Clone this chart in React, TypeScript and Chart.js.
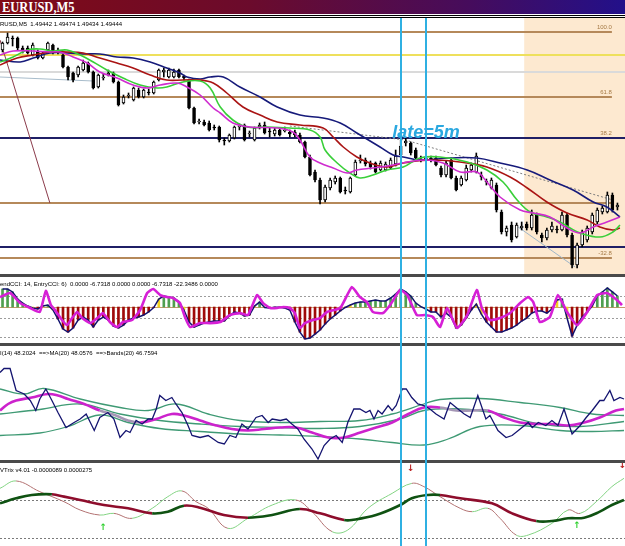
import React, { useEffect, useRef } from 'react';
import { Chart, registerables } from 'chart.js';

Chart.register(...registerables);

// ======================= DATA =======================
const symbolTitle = 'EURUSD,M5';
const headerSymbol = 'RUSD,M5';
const headerOHLC = ['1.49442', '1.49474', '1.49434', '1.49444'];
const cciLabel = 'endCCI: 14, EntryCCI: 6)  0.0000 -6.7318 0.0000 0.0000 -6.7318 -22.3486 0.0000';
const rsiLabel = 'I(14) 48.2024  ==>MA(20) 48.0576  ==>Bands(20) 46.7594';
const trixLabel = 'VTrix v4.01 -0.0000089 0.0000275';
const updateText = 'late=5m';

// candle slots (x index range)
const X_MIN = -0.5;
const X_MAX = 123.5;

const opens = [
  1.49599, 1.49606, 1.49611, 1.49611, 1.49601, 1.49601, 1.49594, 1.49597, 1.49591, 1.49599,
  1.49604, 1.49599, 1.49594, 1.49582, 1.49576, 1.49574, 1.49579, 1.49586, 1.49577, 1.49562,
  1.49571, 1.49574, 1.49576, 1.49567, 1.49546, 1.49553, 1.49549, 1.49559, 1.49552, 1.49557,
  1.49556, 1.49569, 1.49577, 1.49572, 1.49572, 1.49579, 1.49573, 1.49569, 1.49541, 1.49527,
  1.49527, 1.49526, 1.49522, 1.49522, 1.49509, 1.49508, 1.49511, 1.49522, 1.49524, 1.49515,
  1.49509, 1.49522, 1.49524, 1.49518, 1.49515, 1.49519, 1.49518, 1.49517, 1.49517, 1.49514,
  1.49507, 1.49492, 1.49477, 1.49469, 1.49449, 1.49461, 1.49467, 1.49471, 1.49459, 1.49457,
  1.49474, 1.49488, 1.49489, 1.49486, 1.49486, 1.49479, 1.49479, 1.49481, 1.49485, 1.49494,
  1.49506, 1.49506, 1.49499, 1.4949, 1.49489, 1.49491, 1.49491, 1.49481, 1.49474, 1.49489,
  1.49471, 1.49464, 1.49469, 1.49479, 1.49477, 1.49474, 1.49468, 1.49461, 1.49464, 1.49437,
  1.49417, 1.49424, 1.49412, 1.49421, 1.49425, 1.49421, 1.49434, 1.49414, 1.49411, 1.49419,
  1.4942, 1.49419, 1.49434, 1.49414, 1.49384, 1.49404, 1.49409, 1.49417, 1.49427, 1.49437,
  1.49437, 1.49454, 1.49442,
];
const closes = [
  1.49606, 1.49612, 1.4961, 1.49601, 1.49599, 1.49596, 1.49604, 1.49591, 1.49596, 1.49606,
  1.49596, 1.49597, 1.49582, 1.49572, 1.49569, 1.49582, 1.49586, 1.49577, 1.49561, 1.49574,
  1.49572, 1.49576, 1.49567, 1.49544, 1.49552, 1.49554, 1.49561, 1.49552, 1.49559, 1.49556,
  1.49567, 1.49579, 1.49579, 1.49579, 1.49577, 1.49572, 1.49571, 1.49541, 1.49526, 1.49528,
  1.49524, 1.49519, 1.49521, 1.49509, 1.49508, 1.49514, 1.49522, 1.49523, 1.49509, 1.49516,
  1.49521, 1.49524, 1.49516, 1.49517, 1.49519, 1.49514, 1.49519, 1.49515, 1.49514, 1.49507,
  1.49492, 1.49474, 1.49469, 1.49449, 1.49462, 1.49469, 1.49471, 1.49457, 1.49458, 1.49471,
  1.49487, 1.49489, 1.49485, 1.49482, 1.49477, 1.49486, 1.49485, 1.49489, 1.49493, 1.49503,
  1.49508, 1.49496, 1.49491, 1.49489, 1.49491, 1.49489, 1.49484, 1.49474, 1.49486, 1.49471,
  1.49459, 1.49471, 1.49481, 1.49484, 1.49493, 1.49472, 1.49467, 1.49469, 1.49439, 1.49417,
  1.49421, 1.49409, 1.49424, 1.49423, 1.49421, 1.49434, 1.49417, 1.49411, 1.49419, 1.49423,
  1.49419, 1.49434, 1.49414, 1.49384, 1.49404, 1.49417, 1.49421, 1.49434, 1.49439, 1.49441,
  1.49454, 1.49439, 1.49444,
];
const highs = [
  1.49607, 1.49616, 1.49613, 1.49612, 1.49603, 1.49603, 1.49606, 1.49599, 1.49597, 1.49607,
  1.49605, 1.49601, 1.49595, 1.49583, 1.49577, 1.49583, 1.49589, 1.49587, 1.49578, 1.49575,
  1.49575, 1.49579, 1.49577, 1.49568, 1.49554, 1.49556, 1.49562, 1.49561, 1.4956, 1.4956,
  1.49568, 1.4958, 1.49581, 1.49581, 1.4958, 1.4958, 1.49574, 1.4957, 1.49542, 1.4953,
  1.49529, 1.49528, 1.49524, 1.49523, 1.49511, 1.49515, 1.49523, 1.49525, 1.49525, 1.49518,
  1.49522, 1.49526, 1.49527, 1.49521, 1.49521, 1.4952, 1.49522, 1.49519, 1.49519, 1.49516,
  1.49508, 1.49494, 1.49479, 1.49471, 1.49464, 1.49471, 1.49473, 1.49472, 1.49462, 1.49472,
  1.49489, 1.49494, 1.49491, 1.49488, 1.49487, 1.49488, 1.49487, 1.49491, 1.49499, 1.49509,
  1.49511, 1.49507, 1.49501, 1.49493, 1.49494, 1.49493, 1.49493, 1.49483, 1.49488, 1.49491,
  1.49473, 1.49473, 1.49484, 1.49486, 1.49496, 1.49477, 1.4947, 1.49471, 1.49466, 1.49439,
  1.49423, 1.49427, 1.49426, 1.49427, 1.49427, 1.49439, 1.49436, 1.49416, 1.49421, 1.49427,
  1.49423, 1.49437, 1.49436, 1.49416, 1.49406, 1.49419, 1.49423, 1.49436, 1.49441, 1.49443,
  1.49457, 1.49456, 1.49446,
];
const lows = [
  1.49597, 1.49605, 1.49603, 1.49599, 1.49596, 1.49595, 1.49593, 1.4959, 1.4959, 1.49598,
  1.49595, 1.49595, 1.49581, 1.49569, 1.49567, 1.49572, 1.49578, 1.49576, 1.4956, 1.49561,
  1.49569, 1.49573, 1.49566, 1.49543, 1.49545, 1.49551, 1.49548, 1.49551, 1.49551, 1.49554,
  1.49555, 1.49568, 1.49572, 1.49571, 1.49571, 1.49571, 1.49569, 1.4954, 1.49525, 1.49525,
  1.49523, 1.49518, 1.49519, 1.49507, 1.49504, 1.49507, 1.4951, 1.49519, 1.49508, 1.49512,
  1.49508, 1.4952, 1.49515, 1.49512, 1.49513, 1.49513, 1.49517, 1.49512, 1.49512, 1.49506,
  1.49491, 1.49473, 1.49467, 1.49445, 1.49447, 1.49459, 1.49465, 1.49456, 1.49455, 1.49456,
  1.49473, 1.49486, 1.49483, 1.4948, 1.49476, 1.49478, 1.49478, 1.4948, 1.49483, 1.49493,
  1.49503, 1.49494, 1.4949, 1.49487, 1.49486, 1.49487, 1.49483, 1.49472, 1.49472, 1.4947,
  1.49458, 1.49463, 1.49468, 1.49477, 1.49476, 1.49469, 1.49464, 1.4946, 1.49437, 1.49415,
  1.49413, 1.49407, 1.49411, 1.49419, 1.49419, 1.49419, 1.49415, 1.49407, 1.49409, 1.49417,
  1.49416, 1.49418, 1.49412, 1.49381, 1.49381, 1.49402, 1.49407, 1.49415, 1.49425, 1.49435,
  1.49436, 1.49437, 1.49439,
];

// moving averages on price: [candle index, price]
const maNavy = [
  [-0.5, 1.49589], [3.5, 1.49587], [6.1, 1.49591], [9.4, 1.49596], [12.8, 1.49596], [16.0, 1.49595],
  [19.3, 1.49595], [22.7, 1.49592], [25.9, 1.49591], [29.3, 1.49587], [32.6, 1.49581], [35.2, 1.49576],
  [36.6, 1.49572], [39.2, 1.4957], [41.2, 1.49572], [43.8, 1.49572], [47.1, 1.49562], [51.1, 1.49552],
  [54.5, 1.49542], [59.0, 1.49534], [63.6, 1.49531], [67.0, 1.49526], [70.3, 1.49516], [74.9, 1.49502],
  [77.5, 1.49494], [79.5, 1.49492], [82.8, 1.49489], [88.8, 1.49491], [94.1, 1.49491], [98.7, 1.49486],
  [104.1, 1.49479], [108.6, 1.49469], [113.2, 1.49459], [117.2, 1.49447], [119.9, 1.49442], [122.5, 1.49432],
];
const maRed = [
  [-0.5, 1.49584], [2.9, 1.49591], [6.1, 1.49594], [9.4, 1.49597], [12.8, 1.49597], [16.0, 1.49596],
  [19.3, 1.49591], [22.7, 1.49586], [25.9, 1.49581], [29.3, 1.49574], [32.6, 1.49569], [35.8, 1.49569],
  [39.2, 1.49569], [41.8, 1.49566], [44.5, 1.49556], [47.7, 1.49542], [51.1, 1.49534], [54.5, 1.49527],
  [59.0, 1.49524], [63.6, 1.49521], [65.6, 1.49512], [67.6, 1.49502], [70.3, 1.49492], [72.9, 1.49486],
  [76.3, 1.49482], [79.5, 1.49486], [85.4, 1.49489], [92.2, 1.49486], [96.1, 1.49482], [100.7, 1.49472],
  [104.1, 1.49461], [108.0, 1.49447], [112.0, 1.49436], [116.0, 1.49429], [118.5, 1.49422], [121.1, 1.49419],
  [122.5, 1.49421],
];
const maGreen = [
  [-0.5, 1.49587], [2.1, 1.49592], [4.9, 1.49599], [7.4, 1.496], [10.0, 1.49598], [12.8, 1.49599],
  [15.4, 1.49594], [18.0, 1.49587], [20.7, 1.49579], [23.9, 1.49571], [27.3, 1.49564], [30.7, 1.49561],
  [32.6, 1.49562], [35.8, 1.49567], [39.2, 1.49568], [41.2, 1.49561], [43.2, 1.49542], [45.7, 1.49529],
  [48.5, 1.49522], [52.5, 1.49522], [57.0, 1.49521], [61.0, 1.49519], [63.0, 1.49512], [64.0, 1.49499],
  [66.4, 1.49486], [68.9, 1.49476], [70.9, 1.49471], [73.5, 1.49474], [76.3, 1.49479], [79.5, 1.49482],
  [82.8, 1.49491], [86.8, 1.49492], [92.2, 1.49487], [96.1, 1.49479], [99.3, 1.49467], [102.1, 1.49449],
  [104.7, 1.49437], [108.0, 1.49432], [110.6, 1.49427], [112.6, 1.49421], [114.6, 1.49416], [118.5, 1.49412],
  [121.1, 1.49417], [122.5, 1.49424],
];
const maMagenta = [
  [-0.5, 1.49594], [2.1, 1.49598], [6.1, 1.49598], [9.4, 1.49597], [11.4, 1.49597], [14.0, 1.49592],
  [16.8, 1.49586], [19.3, 1.49577], [22.7, 1.49571], [25.9, 1.49564], [28.7, 1.49561], [31.3, 1.49564],
  [34.6, 1.49566], [36.6, 1.49562], [39.2, 1.49554], [41.8, 1.49541], [43.2, 1.49536], [45.7, 1.49526],
  [49.1, 1.49522], [54.5, 1.49521], [57.6, 1.49517], [59.0, 1.49509], [61.0, 1.49492], [63.0, 1.49486],
  [65.6, 1.49481], [68.4, 1.49476], [70.3, 1.49479], [73.5, 1.49481], [77.5, 1.49484], [80.3, 1.49487],
  [84.2, 1.49489], [87.4, 1.49486], [90.8, 1.49477], [94.1, 1.49477], [96.1, 1.49467], [98.7, 1.49452],
  [102.7, 1.49439], [105.3, 1.49436], [108.6, 1.49432], [112.0, 1.49421], [114.6, 1.49416], [117.2, 1.49422],
  [119.9, 1.49427], [122.5, 1.49432],
];

// drawing objects on the price chart
const fiboLevels = [100.0, 61.8, 38.2, 0.0, -32.8];
const fiboPrices = [1.49617, 1.49552, 1.49511, 1.49446, 1.49391];
const fiboEndIndex = 120.9;
const plainLevelPrices = [1.49594, 1.49577, 1.49511, 1.49402];
const shadeFromIndex = 103.5;
const trendMaroon = [[-0.5, 1.49609], [9.4, 1.49446]];
const trendSteelLeft = [[-0.5, 1.49572], [18.0, 1.49568]];
const trendSteelRight = [[102.3, 1.49422], [113.6, 1.49382]];
const trendDashed = [[57.0, 1.49523], [79.9, 1.49509], [121.1, 1.49449]];
const updateTextAnchor = [77.3, 1.49511];
const verticalLineIndex = [79, 84];

// CCI panel
const trendCci = [
  164, 164, 137, 73, 36, 9, -9, -18, 9, 18,
  -27, -109, -200, -228, -191, -118, -91, -118, -182, -118,
  -91, -118, -173, -191, -164, -118, -100, -91, -73, -45,
  -5, 73, 100, 91, 82, 45, -27, -136, -182, -164,
  -146, -136, -127, -127, -127, -82, -45, -55, -82, -73,
  9, 45, -5, -9, -3, -2, -9, -27, -136, -228,
  -291, -282, -246, -209, -155, -109, -73, -36, -4, 18,
  36, 45, 45, 55, 64, 55, 55, 82, 118, 164,
  137, 100, 36, 4, -18, -45, -45, -91, -55, -91,
  -191, -164, -100, -27, 27, -64, -136, -182, -228, -228,
  -209, -191, -164, -127, -100, -55, -36, -36, -55, -18,
  64, 73, -100, -264, -164, -91, -45, 9, 100, 137,
  173, 137, 100,
];
const entryCci = [
  [-0.5, 91], [1.5, 127], [3.5, 36], [5.5, -9], [7.4, -45], [8.6, 146], [9.6, 18], [10.4, -27],
  [11.8, -118], [12.8, -164], [13.8, -100], [14.8, -45], [15.8, -100], [17.4, -146], [18.8, -100],
  [19.9, -55], [21.3, -136], [22.7, -182], [23.9, -136], [25.7, -118], [27.3, -27], [28.7, 127],
  [29.9, 164], [31.3, 109], [32.6, 91], [33.8, 82], [35.2, 36], [36.2, -91], [37.2, -182],
  [39.2, -146], [41.2, -146], [43.2, -136], [45.1, -73], [47.1, -55], [48.7, -73], [50.5, 109],
  [51.7, 36], [53.1, -9], [54.5, -9], [55.7, 0], [57.0, -9], [58.0, -55], [59.0, -191], [60.0, -146],
  [61.6, -118], [63.0, -100], [64.4, -45], [67.0, -9], [69.3, 182], [70.9, 91], [72.3, 45],
  [73.5, -45], [75.5, -55], [76.9, 18], [78.9, 155], [80.3, 109], [82.2, -73], [83.8, -73],
  [85.4, -91], [86.8, -182], [88.2, -9], [90.2, -191], [92.2, -73], [94.1, 155], [95.1, -9],
  [96.7, -118], [98.7, -100], [100.7, -55], [102.7, 36], [104.3, 91], [105.3, 45], [106.6, -136],
  [108.6, -91], [110.2, 109], [112.0, -45], [114.0, -164], [116.0, -45], [118.0, 109], [119.9, 127],
  [121.9, 64], [122.9, 18],
];
const cciDottedLevels = [100, -100, -270];

// RSI panel
const rsiLine = [
  [-0.5, 53.5], [0.3, 54.3], [1.5, 54.3], [2.7, 49.9], [4.3, 49.2], [5.5, 47.9], [6.6, 45.9], [7.4, 48.2],
  [8.6, 50.2], [9.8, 47.9], [11.0, 45.5], [12.6, 42.5], [14.2, 43.5], [15.4, 44.2], [16.6, 45.2], [18.2, 41.9],
  [19.3, 44.5], [20.9, 45.5], [22.1, 44.2], [23.3, 40.5], [24.5, 41.9], [25.3, 41.5], [26.5, 43.9], [27.7, 43.2],
  [28.9, 44.2], [29.7, 44.2], [30.5, 46.2], [31.2, 48.9], [32.4, 47.9], [33.6, 48.5], [34.4, 47.2], [35.6, 45.5],
  [36.8, 42.9], [37.6, 40.9], [39.2, 40.5], [40.8, 40.9], [42.8, 39.5], [44.0, 39.2], [45.1, 40.9], [46.3, 40.5],
  [47.5, 43.2], [48.7, 42.2], [50.3, 44.5], [51.5, 44.9], [52.7, 43.5], [53.5, 44.2], [55.1, 43.9], [56.3, 44.2],
  [57.4, 43.2], [58.6, 42.2], [59.8, 40.2], [61.4, 38.2], [62.6, 36.2], [63.8, 38.9], [65.0, 40.2], [66.2, 40.9],
  [67.4, 39.5], [68.5, 43.5], [69.7, 46.2], [70.9, 46.2], [72.1, 45.5], [72.9, 45.9], [73.7, 44.2], [74.5, 45.9],
  [75.3, 45.2], [76.5, 46.9], [77.3, 45.9], [78.1, 46.9], [79.3, 50.2], [80.1, 50.2], [81.2, 48.5], [82.4, 47.2],
  [83.6, 46.9], [84.8, 46.2], [86.0, 45.2], [87.6, 44.2], [88.8, 47.5], [90.0, 46.5], [91.6, 45.2], [92.8, 44.5],
  [94.3, 48.9], [95.9, 44.2], [96.7, 44.9], [98.3, 41.9], [99.9, 40.5], [101.1, 40.9], [102.7, 42.2], [104.3, 43.5],
  [105.1, 42.5], [106.3, 43.5], [107.8, 42.9], [109.0, 43.9], [110.2, 42.9], [111.4, 46.2], [113.0, 41.2], [114.6, 42.9],
  [115.8, 44.5], [117.0, 45.9], [118.5, 47.9], [119.3, 47.9], [120.5, 49.9], [121.3, 47.9], [122.5, 48.5], [123.3, 48.2],
];
const rsiMa = [
  [-0.5, 45.9], [1.1, 47.2], [2.7, 47.9], [5.8, 48.5], [9.0, 49.2], [11.0, 48.9], [13.0, 48.2], [16.2, 47.2],
  [19.3, 45.9], [22.5, 44.9], [24.9, 43.9], [27.3, 43.5], [30.5, 44.2], [33.6, 45.2], [36.0, 44.9], [39.2, 43.9],
  [42.4, 42.9], [45.5, 42.2], [48.7, 41.9], [51.9, 42.2], [55.1, 42.5], [58.2, 42.5], [61.4, 41.5], [64.6, 40.5],
  [67.8, 40.5], [71.0, 41.5], [74.1, 42.5], [77.3, 43.5], [80.5, 45.2], [83.6, 46.5], [86.8, 46.5], [90.0, 45.9],
  [93.2, 45.9], [96.3, 45.9], [99.5, 44.5], [102.7, 43.5], [105.9, 43.2], [109.0, 43.2], [112.2, 42.9], [115.4, 43.5],
  [118.5, 44.5], [121.7, 45.9], [123.3, 46.2],
];
const rsiMaGraySpans = [[19.3, 27.3], [86.8, 96.3]];
const bandUpper = [
  [-0.5, 50.2], [4.3, 49.2], [8.2, 50.3], [15.4, 48.2], [23.3, 46.5], [28.9, 45.9], [34.4, 47.2], [40.8, 45.2],
  [47.1, 43.9], [55.1, 43.5], [63.0, 43.7], [70.9, 43.9], [77.3, 45.2], [83.6, 47.2], [86.8, 48.1], [94.7, 48.3],
  [102.7, 47.5], [110.6, 46.5], [117.0, 45.2], [123.3, 44.9],
];
const bandMiddle = [
  [-0.5, 45.2], [7.4, 46.1], [15.4, 47.2], [23.3, 45.2], [31.2, 43.9], [39.2, 43.2], [47.1, 42.7], [55.1, 42.5],
  [63.0, 42.3], [70.9, 42.7], [78.9, 44.2], [83.6, 45.9], [90.8, 46.2], [98.7, 45.2], [106.6, 43.2], [114.6, 42.7],
  [123.3, 43.7],
];
const bandLower = [
  [-0.5, 40.9], [7.4, 41.4], [13.0, 42.7], [19.3, 45.0], [24.9, 43.5], [31.2, 42.3], [39.2, 41.7], [47.1, 41.2],
  [55.1, 41.0], [63.0, 40.7], [70.9, 40.2], [77.3, 39.5], [83.6, 39.0], [88.4, 40.2], [94.7, 42.7], [102.7, 42.9],
  [110.6, 41.9], [117.0, 41.7], [123.3, 41.9],
];

// VTrix panel (values in 1e-6)
const trixMain = [
  [-0.5, -4.2], [2.7, 2.1], [5.8, 6.3], [9.8, 7.1], [12.2, 4.2], [15.4, 0.0], [20.1, -6.3], [24.9, -10.4],
  [29.7, -16.7], [32.8, -14.6], [36.0, -7.1], [39.2, -9.6], [43.9, -18.8], [48.7, -22.1], [53.5, -18.8],
  [59.0, -11.3], [63.0, -16.7], [67.8, -25.0], [69.3, -25.0], [74.1, -18.8], [78.9, -6.3], [81.2, 2.1],
  [84.4, 6.3], [86.8, 6.3], [90.8, 2.1], [97.1, -4.2], [101.1, -16.7], [105.9, -26.3], [109.0, -26.3],
  [112.2, -22.9], [115.4, -22.1], [118.5, -14.6], [120.9, -6.3], [123.3, 0.0],
];
const trixSignal = [
  [-0.5, 14.6], [2.7, 23.8], [7.4, 10.4], [12.2, -2.1], [15.4, -12.5], [19.3, -18.8], [22.1, -16.7],
  [25.7, -22.9], [29.7, -10.4], [32.8, 4.2], [35.6, 11.3], [38.4, -2.1], [40.8, -10.4], [44.7, -35.4],
  [48.7, -22.9], [53.5, -6.3], [58.2, 0.0], [61.4, -14.6], [65.4, -39.6], [68.5, -37.5], [72.5, -10.4],
  [77.3, 8.3], [81.2, 20.8], [83.6, 16.7], [86.8, 4.2], [90.8, -10.4], [93.2, -14.6], [96.3, -10.4],
  [98.7, -22.9], [101.9, -43.8], [104.3, -43.8], [109.0, -29.2], [112.2, -12.5], [114.6, -16.7],
  [117.8, -2.1], [120.9, 16.7], [123.3, 27.1],
];
const trixDottedLevels = [0, -47.5];
const trixUpArrows = [[20, -35], [114, -32.5]];
const trixDownArrows = [[81, 38.8], [123, 42.5]];

// ======================= STYLE =======================
const SMALL_FONT = '6px "Liberation Sans", Arial, sans-serif';
const SEP_COLOR = '#4a4a4a';
const VLINE_COLOR = '#2fb0e2';
const FIBO_COLOR = '#b5895a';
const PLAIN_LEVEL_COLORS = ['#eee05c', '#dadada', '#1f1f66', '#1f1f66'];

const pts = (arr: number[][]) => arr.map(([x, y]) => ({ x, y }));

function baseOptions(yMin: number, yMax: number, padBottom: number): any {
  return {
    animation: false,
    responsive: false,
    events: [],
    layout: { padding: { left: 0, right: 0, top: 0, bottom: padBottom } },
    plugins: { legend: { display: false }, tooltip: { enabled: false } },
    scales: {
      x: { type: 'linear', min: X_MIN, max: X_MAX, display: false, offset: false, grid: { offset: false } },
      y: { type: 'linear', min: yMin, max: yMax, display: false },
    },
  };
}

function strokeH(ctx: any, x0: number, x1: number, py: number, w: number, color: string, dash?: number[]) {
  ctx.save();
  ctx.strokeStyle = color;
  ctx.lineWidth = w;
  if (dash) ctx.setLineDash(dash);
  const yy = w % 2 === 1 ? Math.round(py) + 0.5 : Math.round(py);
  ctx.beginPath();
  ctx.moveTo(x0, yy);
  ctx.lineTo(x1, yy);
  ctx.stroke();
  ctx.restore();
}

function drawSeparator(chart: any) {
  const { ctx, width, height } = chart;
  ctx.save();
  ctx.fillStyle = SEP_COLOR;
  ctx.fillRect(0, height - 3, width, 3);
  ctx.restore();
}

function drawVLines(chart: any) {
  const { ctx, height, scales } = chart;
  ctx.save();
  ctx.fillStyle = VLINE_COLOR;
  verticalLineIndex.forEach((v) => {
    const px = Math.round(scales.x.getPixelForValue(v));
    ctx.fillRect(px - 1, 0, 2, height);
  });
  ctx.restore();
}

function drawLabel(chart: any, text: string, baseline: number) {
  const { ctx } = chart;
  ctx.save();
  ctx.font = SMALL_FONT;
  ctx.fillStyle = '#000';
  ctx.textBaseline = 'alphabetic';
  ctx.fillText(text, 0, baseline);
  ctx.restore();
}

// ======================= CHART CONFIGS =======================
function mainConfig(): any {
  const idx = opens.map((_, i) => i);
  const bodyData = idx.map((i) => ({ x: i, y: [opens[i], closes[i]] }));
  const wickData = idx.map((i) => ({ x: i, y: [lows[i], highs[i]] }));
  const bodyFill = idx.map((i) => (closes[i] > opens[i] ? '#ffffff' : '#000000'));
  const line = (data: number[][], color: string, width: number, order: number, extra: any = {}) => ({
    type: 'line',
    data: pts(data),
    borderColor: color,
    borderWidth: width,
    pointRadius: 0,
    tension: 0.4,
    order,
    ...extra,
  });
  const plugin = {
    id: 'mainDecor',
    beforeDatasetsDraw(chart: any) {
      const { ctx, chartArea: a, scales } = chart;
      const { x, y } = scales;
      ctx.save();
      const sx = x.getPixelForValue(shadeFromIndex);
      ctx.fillStyle = '#fde9d0';
      ctx.fillRect(sx, a.top, a.right - sx, a.bottom - a.top);
      ctx.restore();
      const fx = x.getPixelForValue(fiboEndIndex);
      fiboPrices.forEach((p) => strokeH(ctx, 0, fx, y.getPixelForValue(p), 2, FIBO_COLOR));
      plainLevelPrices.forEach((p, k) => strokeH(ctx, 0, a.right, y.getPixelForValue(p), 2, PLAIN_LEVEL_COLORS[k]));
    },
    afterDatasetsDraw(chart: any) {
      const { ctx, scales } = chart;
      const { x, y } = scales;
      drawLabel(chart, headerSymbol + '  ' + headerOHLC.join(' '), 8);
      ctx.save();
      ctx.font = SMALL_FONT;
      ctx.fillStyle = '#a57a45';
      ctx.textAlign = 'right';
      const fx = x.getPixelForValue(fiboEndIndex);
      fiboLevels.forEach((lv, k) => {
        if (lv === 0) return;
        ctx.fillText(lv.toFixed(1), fx, y.getPixelForValue(fiboPrices[k]) - 3);
      });
      ctx.restore();
      drawSeparator(chart);
      drawVLines(chart);
      ctx.save();
      ctx.font = 'italic bold 18px "Liberation Sans", Arial, sans-serif';
      ctx.fillStyle = '#2aa8e0';
      ctx.textBaseline = 'alphabetic';
      ctx.fillText(updateText, x.getPixelForValue(updateTextAnchor[0]), y.getPixelForValue(updateTextAnchor[1]));
      ctx.restore();
    },
  };
  return {
    type: 'bar',
    data: {
      datasets: [
        line(maMagenta, '#cf2ccf', 1.6, 0),
        line(maGreen, '#39cf39', 1.6, 1),
        line(maRed, '#aa1414', 1.6, 2),
        line(maNavy, '#161a7a', 1.6, 3),
        {
          type: 'bar',
          data: bodyData,
          backgroundColor: bodyFill,
          borderColor: '#000',
          borderWidth: 1,
          borderSkipped: false,
          barThickness: 3,
          grouped: false,
          order: 4,
        },
        {
          type: 'bar',
          data: wickData,
          backgroundColor: '#000',
          borderWidth: 0,
          barThickness: 1,
          grouped: false,
          order: 5,
        },
        line(trendMaroon, '#8b3b4b', 1, 6, { tension: 0 }),
        line(trendSteelLeft, '#a8bccb', 1, 6, { tension: 0 }),
        line(trendSteelRight, '#9fb6c8', 1, 6, { tension: 0 }),
        line(trendDashed, '#7d7d7d', 1, 6, { tension: 0, borderDash: [2, 2] }),
      ],
    },
    options: baseOptions(1.49375, 1.49631, 3),
    plugins: [plugin],
  };
}

function cciConfig(): any {
  const idx = trendCci.map((_, i) => i);
  const histColors = idx.map((i) => {
    const v = trendCci[i];
    const prev = i > 0 ? trendCci[i - 1] : v;
    if ((v >= 0) !== (prev >= 0)) return '#f2d21e';
    return v >= 0 ? '#4f9f4f' : '#a00a0a';
  });
  const plugin = {
    id: 'cciDecor',
    beforeDatasetsDraw(chart: any) {
      const { ctx, chartArea: a, scales } = chart;
      cciDottedLevels.forEach((lv) => strokeH(ctx, 0, a.right, scales.y.getPixelForValue(lv), 1, '#9c9c9c', [2, 2]));
      strokeH(ctx, 0, a.right, scales.y.getPixelForValue(0), 1, '#c59a6a');
    },
    afterDatasetsDraw(chart: any) {
      drawLabel(chart, cciLabel, 9);
      drawSeparator(chart);
      drawVLines(chart);
    },
  };
  return {
    type: 'bar',
    data: {
      datasets: [
        {
          type: 'line',
          data: pts(entryCci),
          borderColor: '#d61fd6',
          borderWidth: 2.6,
          pointRadius: 0,
          tension: 0.15,
          order: 0,
        },
        {
          type: 'line',
          data: idx.map((i) => ({ x: i, y: trendCci[i] })),
          borderColor: '#12126e',
          borderWidth: 1.5,
          pointRadius: 0,
          tension: 0,
          order: 1,
        },
        {
          type: 'bar',
          data: idx.map((i) => ({ x: i, y: trendCci[i] })),
          backgroundColor: histColors,
          barThickness: 2,
          grouped: false,
          order: 2,
        },
      ],
    },
    options: baseOptions(-327, 273, 3),
    plugins: [plugin],
  };
}

function rsiConfig(): any {
  const plugin = {
    id: 'rsiDecor',
    afterDatasetsDraw(chart: any) {
      drawLabel(chart, rsiLabel, 9);
      drawSeparator(chart);
      drawVLines(chart);
    },
  };
  const band = (data: number[][]) => ({
    type: 'line',
    data: pts(data),
    borderColor: '#3f9a74',
    borderWidth: 1.3,
    pointRadius: 0,
    tension: 0.4,
    order: 3,
  });
  return {
    type: 'line',
    data: {
      datasets: [
        {
          data: pts(rsiLine),
          borderColor: '#141470',
          borderWidth: 1.3,
          pointRadius: 0,
          tension: 0,
          order: 0,
        },
        {
          data: pts(rsiMa),
          borderColor: '#cc22cc',
          borderWidth: 2.6,
          pointRadius: 0,
          tension: 0.4,
          order: 1,
          segment: {
            borderColor: (c: any) =>
              rsiMaGraySpans.some(([s, e]) => c.p0.parsed.x >= s && c.p1.parsed.x <= e) ? '#a596b5' : undefined,
          },
        },
        band(bandUpper),
        band(bandMiddle),
        band(bandLower),
      ],
    },
    options: baseOptions(36.0, 58.8, 3),
    plugins: [plugin],
  };
}

function trixConfig(): any {
  const plugin = {
    id: 'trixDecor',
    beforeDatasetsDraw(chart: any) {
      const { ctx, chartArea: a, scales } = chart;
      trixDottedLevels.forEach((lv) => strokeH(ctx, 0, a.right, scales.y.getPixelForValue(lv), 1, '#7a7a7a', [2, 2]));
    },
    afterDatasetsDraw(chart: any) {
      const { ctx, scales } = chart;
      drawLabel(chart, trixLabel, 9);
      drawVLines(chart);
      ctx.save();
      ctx.font = 'bold 9px "DejaVu Sans", sans-serif';
      ctx.textAlign = 'center';
      ctx.textBaseline = 'middle';
      ctx.fillStyle = '#2fd02f';
      trixUpArrows.forEach(([i, v]) => ctx.fillText('↑', scales.x.getPixelForValue(i), scales.y.getPixelForValue(v)));
      ctx.fillStyle = '#b81c1c';
      trixDownArrows.forEach(([i, v]) => ctx.fillText('↓', scales.x.getPixelForValue(i), scales.y.getPixelForValue(v)));
      ctx.restore();
    },
  };
  return {
    type: 'line',
    data: {
      datasets: [
        {
          data: pts(trixMain),
          borderWidth: 2.6,
          borderColor: '#0f5212',
          pointRadius: 0,
          tension: 0.4,
          order: 0,
          segment: {
            borderColor: (c: any) => (c.p1.parsed.y >= c.p0.parsed.y ? '#0f5212' : '#8e0d2c'),
          },
        },
        {
          data: pts(trixSignal),
          borderWidth: 1,
          borderColor: '#83d483',
          pointRadius: 0,
          tension: 0.4,
          order: 1,
          segment: {
            borderColor: (c: any) => (c.p1.parsed.y >= c.p0.parsed.y ? '#83d483' : '#b37272'),
          },
        },
      ],
    },
    options: baseOptions(-57.5, 46.25, 0),
    plugins: [plugin],
  };
}

// ======================= COMPONENT =======================
export default function App() {
  const mainRef = useRef<HTMLCanvasElement>(null);
  const cciRef = useRef<HTMLCanvasElement>(null);
  const rsiRef = useRef<HTMLCanvasElement>(null);
  const trixRef = useRef<HTMLCanvasElement>(null);

  useEffect(() => {
    const charts = [
      new Chart(mainRef.current as HTMLCanvasElement, mainConfig()),
      new Chart(cciRef.current as HTMLCanvasElement, cciConfig()),
      new Chart(rsiRef.current as HTMLCanvasElement, rsiConfig()),
      new Chart(trixRef.current as HTMLCanvasElement, trixConfig()),
    ];
    return () => charts.forEach((c) => c.destroy());
  }, []);

  const abs = (top: number, height: number): React.CSSProperties => ({
    position: 'absolute',
    left: 0,
    top,
    width: 625,
    height,
    display: 'block',
  });

  return (
    <div style={{ position: 'absolute', left: 0, top: 0, width: 625, height: 546, background: '#fff', overflow: 'hidden' }}>
      <div
        style={{
          ...abs(0, 14),
          background: 'linear-gradient(to right, #800b16 0%, #6b0b2c 40%, #460c5c 75%, #22108a 100%)',
        }}
      >
        <span
          style={{
            position: 'absolute',
            left: 2,
            top: 0,
            font: 'bold 12.5px "Liberation Serif", "Times New Roman", serif',
            color: '#ffffff',
            lineHeight: '12px',
            transform: 'scale(1, 1.2)',
            transformOrigin: 'left top',
            whiteSpace: 'nowrap',
          }}
        >
          {symbolTitle}
        </span>
      </div>
      <div style={{ ...abs(15, 1), background: '#000' }} />
      <div style={{ ...abs(17, 1), background: '#000' }} />
      <canvas ref={mainRef} width={625} height={259} style={abs(18, 259)} />
      <canvas ref={cciRef} width={625} height={69} style={abs(277, 69)} />
      <canvas ref={rsiRef} width={625} height={117} style={abs(346, 117)} />
      <canvas ref={trixRef} width={625} height={83} style={abs(463, 83)} />
    </div>
  );
}
